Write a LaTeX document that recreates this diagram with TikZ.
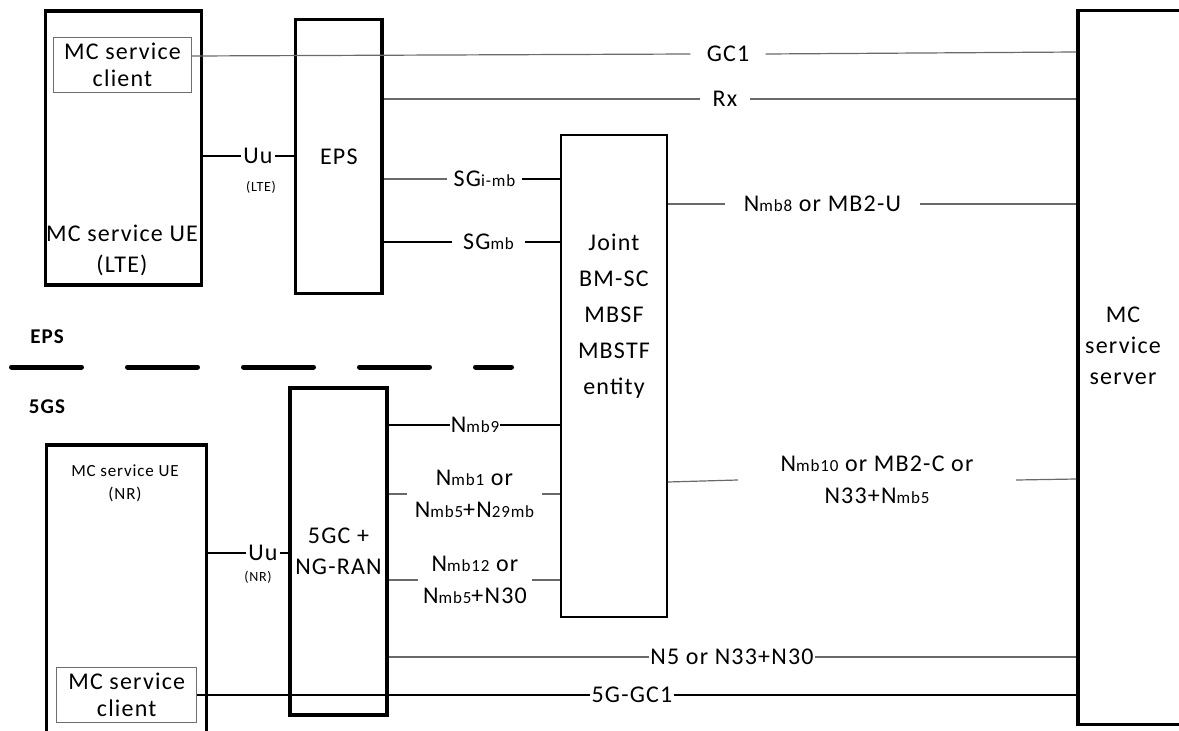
\documentclass[tikz,border=0pt]{standalone}
\usepackage{fontspec}
\setmainfont{Carlito}[LetterSpace=5]
\usetikzlibrary{positioning, calc}
\definecolor{linegray}{RGB}{105,105,105}
\definecolor{boxgray}{RGB}{110,110,110}
\newcommand{\lblfont}{\fontsize{24}{32}\selectfont}
\newcommand{\boxfont}{\fontsize{24}{31}\selectfont}
\newcommand{\notefont}{\fontsize{14}{16}\selectfont}
\newcommand{\subsc}[1]{{\fontsize{17}{17}\selectfont #1}}

\begin{document}
\begin{tikzpicture}[
				x=1pt, y=-1pt,
				box/.style={draw, line width=3.3pt, inner sep=0pt, align=center, font=\boxfont},
				clientbox/.style={draw=boxgray, line width=1pt, inner sep=0pt, align=center,
					font=\fontsize{24}{27}\selectfont},
				txt/.style={inner sep=0pt, align=center, font=\boxfont},
				smalltxt/.style={inner sep=0pt, align=center, font=\fontsize{17}{23}\selectfont},
				region/.style={inner sep=0pt, font=\fontsize{21}{24}\selectfont\bfseries},
				lab/.style={inner xsep=1pt, inner ysep=0pt, align=center, font=\lblfont},
				note/.style={inner sep=0pt, font=\notefont},
				conn/.style={draw=linegray, line width=1.2pt},
				connb/.style={draw=black, line width=1.2pt},
				sepline/.style={line width=5pt, line cap=round, dash pattern=on 70pt off 46pt}
				]
				\useasboundingbox (0,0) rectangle (1179,731);

				\node[box, minimum width=156pt, minimum height=274pt] (ueLTE) at (123.5,148) {};
				\node[clientbox, minimum width=138pt, minimum height=55pt] (clientLTE) at (122.5,65.3) {MC service\\client};
				\node[box, minimum width=86.5pt, minimum height=274pt] (eps) at (338.8,156.7) {EPS};
				\node[box, line width=2pt, minimum width=105.7pt, minimum height=482pt] (joint) at (613.9,376) {};
				\node[box, minimum width=122pt, minimum height=714pt] (server) at (1139,367.5) {};
				\node[box, minimum width=160pt, minimum height=315pt] (ueNR) at (126.7,602.5) {};
				\node[clientbox, minimum width=140pt, minimum height=55pt] (clientNR) at (126.7,695.2) {MC service\\client};
				\node[box, minimum width=97pt, minimum height=327pt] (ngran) at (338.5,551.5) {5GC +\\NG-RAN};

				\node[txt] (ueLTEtxt) at (122,250) {MC service UE\\(LTE)};
				\node[txt, font=\fontsize{24}{36}\selectfont] (jointtxt) at (614,316) {Joint\\BM-SC\\MBSF\\MBSTF\\entity};
				\node[txt] (servertxt) at (1123,346) {MC\\service\\server};
				\node[smalltxt] (ueNRtxt) at (125,483) {MC service UE\\(NR)};
				\node[region] (epsreg) at (47,337) {EPS};
				\node[region] (fgsreg) at (47,407) {5GS};

				\coordinate (sepL) at (11.5,367);
				\coordinate (sepR) at (511.5,367);
				\draw[sepline] (sepL) -- (sepR);

				% EPS side
				\node[lab, minimum width=75pt] (gc1) at (728,54) {GC1};
				\draw[conn] (clientLTE.east |- 0,56) -- (gc1.west);
				\draw[conn] (gc1.east) -- (server.west |- 0,52);
				\node[lab, minimum width=50pt] (rx) at (725,99) {Rx};
				\draw[conn] (eps.east |- rx) -- (rx.west);
				\draw[conn] (rx.east) -- (server.west |- rx);
				\node[lab, minimum width=34pt] (uuLTE) at (258,156) {Uu};
				\node[note] (lteNote) at (261,187) {(LTE)};
				\draw[connb] (ueLTE.east |- uuLTE) -- (uuLTE.west);
				\draw[connb] (uuLTE.east) -- (eps.west |- uuLTE);
				\node[lab, minimum width=75pt] (sgi) at (484.5,179) {SG\subsc{i-mb}};
				\draw[conn] (eps.east |- sgi) -- (sgi.west);
				\draw[connb] (sgi.east) -- (joint.west |- sgi);
				\node[lab, minimum width=73pt] (sgmb) at (488.5,242) {SG\subsc{mb}};
				\draw[connb] (eps.east |- sgmb) -- (sgmb.west);
				\draw[connb] (sgmb.east) -- (joint.west |- sgmb);
				\node[lab, minimum width=195pt] (nmb8) at (822.5,204) {N\subsc{mb8} or MB2-U};
				\draw[conn] (joint.east |- nmb8) -- (nmb8.west);
				\draw[conn] (nmb8.east) -- (server.west |- nmb8);

				% 5GS side
				\node[lab, minimum width=50pt] (nmb9) at (475,425) {N\subsc{mb9}};
				\draw[connb] (ngran.east |- nmb9) -- (nmb9.west);
				\draw[connb] (nmb9.east) -- (joint.west |- nmb9);
				\node[lab, minimum width=135pt] (nmb1) at (474.5,494) {N\subsc{mb1} or\\N\subsc{mb5}+N\subsc{29mb}};
				\draw[conn] (ngran.east |- nmb1) -- (nmb1.west);
				\draw[conn] (nmb1.east) -- (joint.west |- nmb1);
				\node[lab, minimum width=114pt] (nmb12) at (475,580) {N\subsc{mb12} or\\N\subsc{mb5}+N30};
				\draw[conn] (ngran.east |- nmb12) -- (nmb12.west);
				\draw[conn] (nmb12.east) -- (joint.west |- nmb12);
				\node[lab, minimum width=278pt] (nmb10) at (877,480) {N\subsc{mb10} or MB2-C or\\N33+N\subsc{mb5}};
				\draw[conn] (joint.east |- 0,482) -- (nmb10.west);
				\draw[conn] (nmb10.east) -- (server.west |- 0,479);
				\node[lab, minimum width=33pt] (uuNR) at (263,553) {Uu};
				\node[note] (nrNote) at (258,577) {(NR)};
				\draw[connb] (ueNR.east |- uuNR) -- (uuNR.west);
				\draw[connb] (uuNR.east) -- (ngran.west |- uuNR);
				\node[lab] (n5) at (732,657) {N5 or N33+N30};
				\draw[conn] (ngran.east |- n5) -- (n5.west);
				\draw[conn] (n5.east) -- (server.west |- n5);
				\node[lab] (gc5g) at (632,695) {5G-GC1};
				\draw[connb] (clientNR.east |- gc5g) -- (gc5g.west);
				\draw[connb] (gc5g.east) -- (server.west |- gc5g);
			\end{tikzpicture}
\end{document}
